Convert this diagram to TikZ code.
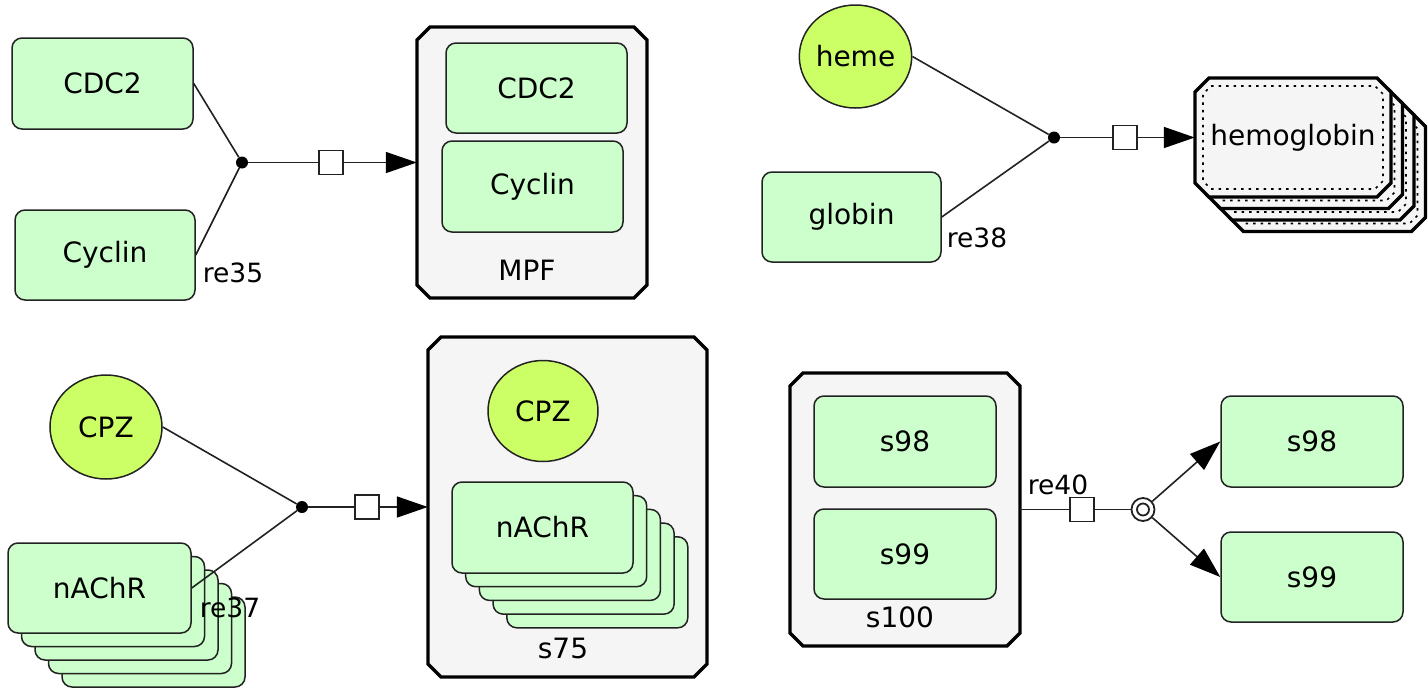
\documentclass[tikz,border=0pt]{standalone}
\usepackage{fontspec}
\setmainfont{DejaVu Sans}
\usetikzlibrary{arrows.meta,shapes.geometric}

\definecolor{protfill}{HTML}{CCFFCC}
\definecolor{molfill}{HTML}{CCFF66}
\definecolor{cplxfill}{HTML}{F5F5F5}
\definecolor{edgecol}{HTML}{222222}

% octagonal (cut-corner) frame: x1, y1, x2, y2, cut, inset, style
\newcommand{\cplxframe}[7]{%
  \path[#7] ({#1+#6+#5},{#2+#6}) -- ({#3-#6-#5},{#2+#6}) -- ({#3-#6},{#2+#6+#5})
    -- ({#3-#6},{#4-#6-#5}) -- ({#3-#6-#5},{#4-#6}) -- ({#1+#6+#5},{#4-#6})
    -- ({#1+#6},{#4-#6-#5}) -- ({#1+#6},{#2+#6+#5}) -- cycle;}

% one layer of a multimer complex: outer frame plus dotted inner frame
\newcommand{\hbcopy}[4]{%
  \cplxframe{#1}{#2}{#3}{#4}{14}{0}{cplx}%
  \cplxframe{#1}{#2}{#3}{#4}{8}{8}{innerdot}}

\begin{document}
\begin{tikzpicture}[x=1pt,y=-1pt,
  nodefont/.style={font=\fontsize{28}{31}\selectfont},
  prot/.style={draw=edgecol, line width=1.5pt, fill=protfill,
    rounded corners=10pt, inner sep=0pt, nodefont},
  mol/.style={ellipse, draw=edgecol, line width=1.5pt, fill=molfill,
    inner sep=0pt, nodefont},
  cplx/.style={draw=black, line width=3.4pt, fill=cplxfill},
  innerdot/.style={draw=black, line width=1.6pt, dash pattern=on 2.5pt off 5pt},
  hold/.style={draw=none, fill=none, inner sep=0pt, nodefont},
  cplxlabel/.style={inner sep=0pt, nodefont},
  rlabel/.style={inner sep=0pt, font=\fontsize{26.5}{29}\selectfont},
  dotnode/.style={circle, fill=black, draw=none, minimum size=12pt, inner sep=0pt},
  sqnode/.style={rectangle, draw=edgecol, line width=1.5pt, fill=white,
    minimum size=24pt, inner sep=0pt},
  conn/.style={draw=edgecol, line width=1.6pt},
  tip/.style={-{Triangle[length=31pt,width=21pt,color=black]}},
]
\useasboundingbox (0,0) rectangle (1428,689);
\fill[white] (0,0) rectangle (1428,689);

% ---------- CDC2 + Cyclin -> MPF ----------
\cplxframe{417}{27}{647}{298}{13}{0}{cplx}
\node[hold, minimum width=230pt, minimum height=271pt] (mpf) at (532,162.5) {};
\node[prot, minimum width=181pt, minimum height=90pt] (mpfcdc) at (536.5,88) {CDC2};
\node[prot, minimum width=181pt, minimum height=91pt] (mpfcyc) at (532.5,186.5) {Cyclin};
\node[cplxlabel] (mpflbl) at (527,270) {MPF};

\node[prot, minimum width=181pt, minimum height=91pt] (cdc) at (102.5,83.5) {CDC2};
\node[prot, minimum width=180pt, minimum height=90pt] (cyc) at (105,255) {Cyclin};
\node[dotnode] (r35) at (242,162.5) {};
\node[sqnode] (r35s) at (331,162.5) {};
\draw[conn] (cdc.east) -- (r35);
\draw[conn] (cyc.east) -- (r35);
\draw[conn] (r35) -- (r35s);
\draw[conn, tip] (r35s) -- (mpf.west);
\node[rlabel] (r35l) at (233,273) {re35};

% ---------- heme + globin -> hemoglobin ----------
\node[mol, minimum width=111pt, minimum height=103pt] (heme) at (855.5,56.5) {heme};
\node[prot, minimum width=179pt, minimum height=90pt] (globin) at (851.5,217) {globin};
\hbcopy{1229.5}{112.5}{1425.5}{231.5}
\hbcopy{1218}{101}{1414}{220}
\hbcopy{1206.5}{89.5}{1402.5}{208.5}
\hbcopy{1195}{78}{1391}{197}
\node[hold, minimum width=196pt, minimum height=119pt] (hb) at (1293,137.5) {hemoglobin};
\node[dotnode] (r38) at (1054,137.5) {};
\node[sqnode] (r38s) at (1125,137.5) {};
\draw[conn] (heme.east) -- (r38);
\draw[conn] (globin.east) -- (r38);
\draw[conn] (r38) -- (r38s);
\draw[conn, tip] (r38s) -- (hb.west);
\node[rlabel] (r38l) at (977,238) {re38};

% ---------- CPZ + nAChR -> s75 ----------
\node[mol, minimum width=112pt, minimum height=104pt] (cpz) at (106,427) {CPZ};
\node[prot, minimum width=183pt, minimum height=90pt] (nach4) at (153.5,642) {};
\node[prot, minimum width=183pt, minimum height=90pt] (nach3) at (140,628.5) {};
\node[prot, minimum width=183pt, minimum height=90pt] (nach2) at (126.5,615) {};
\node[prot, minimum width=183pt, minimum height=90pt] (nach1) at (113,601.5) {};
\node[prot, minimum width=183pt, minimum height=90pt] (nach) at (99.5,588) {nAChR};

\cplxframe{428}{337}{707}{677}{13}{0}{cplx}
\node[hold, minimum width=279pt, minimum height=340pt] (s75) at (567.5,507) {};
\node[mol, minimum width=110pt, minimum height=101pt] (s75cpz) at (543,411) {CPZ};
\node[prot, minimum width=181pt, minimum height=91pt] (s75n4) at (597.3,582.3) {};
\node[prot, minimum width=181pt, minimum height=91pt] (s75n3) at (583.6,568.6) {};
\node[prot, minimum width=181pt, minimum height=91pt] (s75n2) at (569.9,554.9) {};
\node[prot, minimum width=181pt, minimum height=91pt] (s75n1) at (556.2,541.2) {};
\node[prot, minimum width=181pt, minimum height=91pt] (s75n) at (542.5,527.5) {nAChR};
\node[cplxlabel] (s75lbl) at (563,648) {s75};

\node[dotnode] (r37) at (302,507) {};
\node[sqnode] (r37s) at (367,507) {};
\draw[conn] (cpz.east) -- (r37);
\draw[conn] (nach.east) -- (r37);
\draw[conn] (r37) -- (r37s);
\draw[conn, tip] (r37s) -- (s75.west);
\node[rlabel] (r37l) at (230,608) {re37};

% ---------- s100 -> s98 + s99 ----------
\cplxframe{790}{373}{1020}{646}{13}{0}{cplx}
\node[hold, minimum width=230pt, minimum height=273pt] (s100) at (905,509.5) {};
\node[prot, minimum width=182pt, minimum height=91pt] (s100a) at (905,441.5) {s98};
\node[prot, minimum width=182pt, minimum height=90pt] (s100b) at (905,554) {s99};
\node[cplxlabel] (s100lbl) at (900,617) {s100};

\node[prot, minimum width=182pt, minimum height=91pt] (s98) at (1312,441.5) {s98};
\node[prot, minimum width=182pt, minimum height=90pt] (s99) at (1312,577) {s99};
\node[sqnode] (r40s) at (1082,509.5) {};
\node[circle, draw=edgecol, line width=1.8pt, fill=white, minimum size=23pt,
  inner sep=0pt] (r40d) at (1143,509.5) {};
\node[circle, draw=edgecol, line width=1.8pt, minimum size=12pt,
  inner sep=0pt] (r40di) at (1143,509.5) {};
\draw[conn] (s100.east) -- (r40s);
\draw[conn] (r40s) -- (r40d);
\draw[conn, tip] (r40d) -- (s98.west);
\draw[conn, tip] (r40d) -- (s99.west);
\node[rlabel] (r40l) at (1058,485) {re40};
\end{tikzpicture}
\end{document}
